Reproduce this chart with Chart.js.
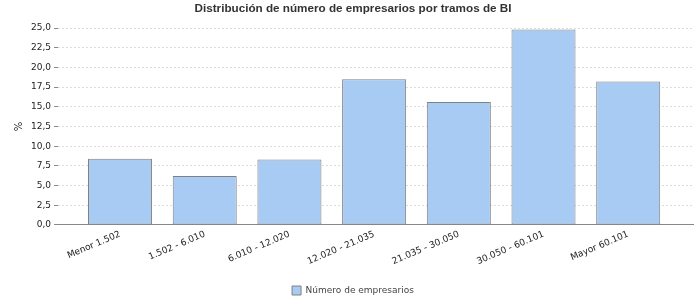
<!DOCTYPE html>
<html><head><meta charset="utf-8">
<script src="https://cdn.jsdelivr.net/npm/chart.js@4"></script>
<style>html,body{margin:0;padding:0;background:#fff}#wrap{width:700px;height:300px}</style>
</head><body><div id="wrap"><canvas id="c" width="700" height="300"></canvas></div>
<script>
const categories = ["Menor 1.502","1.502 - 6.010","6.010 - 12.020","12.020 - 21.035","21.035 - 30.050","30.050 - 60.101","Mayor 60.101"];
const empresarios = [8.4, 6.2, 8.3, 18.5, 15.6, 24.8, 18.2];
const yTicks = [0,2.5,5,7.5,10,12.5,15,17.5,20,22.5,25];
const seriesName = "Número de empresarios";
const titleText = "Distribución de número de empresarios por tramos de BI";

const fmt = v => v.toFixed(1).replace('.', ',');
new Chart(document.getElementById('c'), {
  type: 'bar',
  data: {
    datasets: [{
      label: seriesName,
      data: empresarios.map((v,i)=>({x:i,y:v})),
      backgroundColor: '#a8cbf4',
      borderColor: '#808080',
      borderWidth: 1,
      borderSkipped: false,
      categoryPercentage: 1,
      barPercentage: 0.756
    }]
  },
  options: {
    responsive: false,
    animation: false,
    layout: {padding: {left: 13, right: 7, top: 0, bottom: -5}},
    plugins: {
      title: {display: true, text: titleText, color: '#333', font: {family: 'Liberation Sans', size: 11.7, weight: 'bold'}, padding: {top: 2, bottom: 12}},
      legend: {position: 'bottom', labels: {boxWidth: 9, boxHeight: 9, color: '#444', font: {family: 'DejaVu Sans', size: 9}, padding: 1}},
      tooltip: {enabled: false}
    },
    scales: {
      x: {
        type: 'linear',
        offset: false,
        min: -0.732, max: 6.765,
        afterBuildTicks: s => { s.ticks = categories.map((c,i)=>({value:i})); },
        afterFit: s => { s.height += 14; },
        ticks: {callback: v => categories[v], minRotation: 23, maxRotation: 23, autoSkip: false, color: '#222', font: {family: 'DejaVu Sans', size: 9}, padding: 4},
        grid: {display: false, drawTicks: false},
        border: {display: true, color: '#888', width: 1}
      },
      y: {
        min: 0, max: 25,
        afterBuildTicks: s => { s.ticks = yTicks.map(v=>({value:v})); },
        ticks: {callback: v => fmt(v), color: '#222', font: {family: 'DejaVu Sans', size: 9}, padding: 3},
        grid: {color: '#dcdcdc', tickColor: '#888', tickBorderDash: [], tickLength: 4},
        border: {display: false, dash: [2,2]},
        title: {display: true, text: '%', color: '#222', font: {family: 'DejaVu Sans', size: 10}, padding: {top: 0, bottom: 3}}
      }
    }
  }
});
</script></body></html>
